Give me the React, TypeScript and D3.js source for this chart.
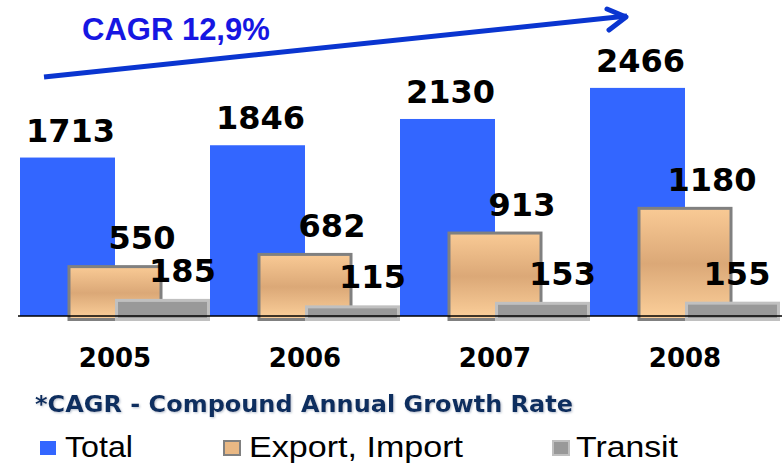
import React, { useEffect, useRef } from "react";
import * as d3 from "d3";

const years = ["2005", "2006", "2007", "2008"];
const totalValues = [1713, 1846, 2130, 2466];
const exportImportValues = [550, 682, 913, 1180];
const transitValues = [185, 115, 153, 155];
const legendLabels = ["Total", "Export, Import", "Transit"];
const cagrText = "CAGR 12,9%";
const footnote = "*CAGR - Compound Annual Growth Rate";

const App = () => {
  const ref = useRef<SVGSVGElement | null>(null);

  useEffect(() => {
    const width = 782,
      height = 465,
      baseline = 316;

    const svg = d3.select(ref.current);
    svg.selectAll("*").remove();
    svg.attr("width", width).attr("height", height);

    const x = d3.scaleBand().domain(years).range([20, 780]).padding(0);
    const y = d3.scaleLinear().domain([0, 2700]).range([baseline, baseline - 0.0925 * 2700]);
    const w = x.bandwidth() / 2;

    const defs = svg.append("defs");
    const grad = defs
      .append("linearGradient")
      .attr("id", "peach")
      .attr("x1", 0)
      .attr("y1", 0)
      .attr("x2", 0)
      .attr("y2", 1);
    grad.append("stop").attr("offset", "0%").attr("stop-color", "#f9ca95");
    grad.append("stop").attr("offset", "50%").attr("stop-color", "#dba877");
    grad.append("stop").attr("offset", "100%").attr("stop-color", "#fcd09b");

    const shadow = defs.append("filter").attr("id", "soft");
    shadow
      .append("feDropShadow")
      .attr("dx", 1)
      .attr("dy", 1)
      .attr("stdDeviation", 1)
      .attr("flood-color", "#8a9ab0")
      .attr("flood-opacity", 0.6);

    // CAGR arrow
    svg
      .append("path")
      .attr("d", "M44,77 L627,16")
      .attr("stroke", "#0a35d0")
      .attr("stroke-width", 5)
      .attr("fill", "none");
    svg
      .append("path")
      .attr("d", "M607,9 L626,17 L609,30")
      .attr("stroke", "#0a35d0")
      .attr("stroke-width", 5)
      .attr("stroke-linecap", "round")
      .attr("stroke-linejoin", "round")
      .attr("fill", "none");
    svg
      .append("text")
      .attr("x", 82)
      .attr("y", 40)
      .attr("font-family", "Liberation Sans, Arial, sans-serif")
      .attr("font-weight", "bold")
      .attr("font-size", 31)
      .attr("fill", "#1616e2")
      .text(cagrText);

    // bars
    const total = years.map((d, i) => ({ year: d, v: totalValues[i] }));
    const exim = years.map((d, i) => ({ year: d, v: exportImportValues[i] }));
    const tran = years.map((d, i) => ({ year: d, v: transitValues[i] }));

    svg
      .selectAll("rect.total")
      .data(total)
      .enter()
      .append("rect")
      .attr("class", "total")
      .attr("x", d => x(d.year)!)
      .attr("y", d => y(d.v))
      .attr("width", w)
      .attr("height", d => baseline - y(d.v))
      .attr("fill", "#3366ff");

    svg
      .selectAll("rect.exim")
      .data(exim)
      .enter()
      .append("rect")
      .attr("class", "exim")
      .attr("x", d => x(d.year)! + w / 2 + 1.5)
      .attr("y", d => y(d.v) + 1.5)
      .attr("width", w - 3)
      .attr("height", d => baseline + 2 - y(d.v))
      .attr("fill", "url(#peach)")
      .attr("stroke", "#808080")
      .attr("stroke-width", 3);

    svg
      .selectAll("rect.transit")
      .data(tran)
      .enter()
      .append("rect")
      .attr("class", "transit")
      .attr("x", d => x(d.year)! + w + 1.5)
      .attr("y", d => y(d.v) + 1.5)
      .attr("width", w - 3)
      .attr("height", d => baseline + 2 - y(d.v))
      .attr("fill", "#999999")
      .attr("stroke", "#c0c0c0")
      .attr("stroke-width", 3);

    // axis line
    svg
      .append("line")
      .attr("x1", 18)
      .attr("x2", 782)
      .attr("y1", baseline)
      .attr("y2", baseline)
      .attr("stroke", "#000")
      .attr("stroke-width", 1.5);

    const numFont = "DejaVu Sans, Verdana, sans-serif";
    const addLabels = (data, cls, offset, gap) => {
      svg
        .selectAll("text." + cls)
        .data(data)
        .enter()
        .append("text")
        .attr("class", cls)
        .attr("x", d => Math.min(x(d.year)! + offset + w / 2, 737))
        .attr("y", d => y(d.v) - gap)
        .attr("text-anchor", "middle")
        .attr("font-family", numFont)
        .attr("font-weight", "bold")
        .attr("font-size", 32)
        .attr("fill", "#000")
        .text(d => d.v);
    };
    addLabels(total, "lt", 3, 16);
    addLabels(exim, "le", w / 2 + 27, 16);
    addLabels(tran, "lr", w + 20, 17);

    // year labels
    svg
      .selectAll("text.year")
      .data(years)
      .enter()
      .append("text")
      .attr("class", "year")
      .attr("x", d => x(d)! + x.bandwidth() / 2)
      .attr("y", 367)
      .attr("text-anchor", "middle")
      .attr("font-family", numFont)
      .attr("font-weight", "bold")
      .attr("font-size", 26)
      .attr("fill", "#000")
      .text(d => d);

    // footnote
    svg
      .append("text")
      .attr("x", 35)
      .attr("y", 412)
      .attr("font-family", numFont)
      .attr("font-weight", "bold")
      .attr("font-size", 23)
      .attr("textLength", 538)
      .attr("lengthAdjust", "spacingAndGlyphs")
      .attr("fill", "#0a2f5f")
      .attr("filter", "url(#soft)")
      .text(footnote);

    // legend
    const legend = [
      { label: legendLabels[0], sx: 39, tx: 65, tl: 68, fill: "#3366ff", stroke: "none" },
      { label: legendLabels[1], sx: 223, tx: 249, tl: 214, fill: "#e9b884", stroke: "#808080" },
      { label: legendLabels[2], sx: 552, tx: 576, tl: 102, fill: "#999999", stroke: "#c0c0c0" }
    ];
    const lg = svg
      .selectAll("g.legend")
      .data(legend)
      .enter()
      .append("g")
      .attr("class", "legend");
    lg.append("rect")
      .attr("x", d => d.sx + 1)
      .attr("y", 441)
      .attr("width", 16)
      .attr("height", 14)
      .attr("fill", d => d.fill)
      .attr("stroke", d => d.stroke)
      .attr("stroke-width", 2);
    lg.append("text")
      .attr("x", d => d.tx)
      .attr("y", 457)
      .attr("font-family", "Liberation Sans, Arial, sans-serif")
      .attr("font-size", 30)
      .attr("textLength", d => d.tl)
      .attr("lengthAdjust", "spacingAndGlyphs")
      .attr("fill", "#000")
      .text(d => d.label);
  }, []);

  return (
    <div style={{ position: "absolute", left: 0, top: 0 }}>
      <svg ref={ref} style={{ display: "block" }}></svg>
    </div>
  );
};

export default App;
